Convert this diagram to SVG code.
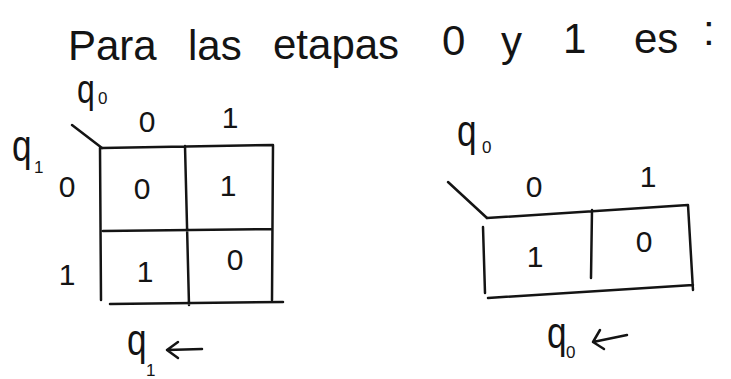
<svg xmlns="http://www.w3.org/2000/svg" width="731" height="379" viewBox="0 0 731 379">
<style>
.t{font-family:"Liberation Sans","DejaVu Sans",sans-serif;fill:#141414;}
.title{font-size:42px;}
.d{font-size:30px;text-anchor:middle;}
.q{font-size:44px;}
.s{font-size:17px;}
.ln{stroke:#141414;stroke-width:2.5;fill:none;stroke-linecap:round;stroke-linejoin:round;}
</style>
<rect width="731" height="379" fill="#ffffff"/>
<g id="title">
<text class="t title"><tspan x="68" y="60">Para</tspan><tspan x="188" y="60">las</tspan><tspan x="273" y="59">etapas</tspan><tspan x="442" y="55">0</tspan><tspan x="501" y="56">y</tspan><tspan x="563" y="53">1</tspan><tspan x="634" y="53">es</tspan><tspan x="703" y="45">:</tspan></text>
</g>
<g id="kmap-left">
<g id="kmap-left-grid">
<path class="ln" d="M102,148 L273,145 M100,148 L101,300 M273,145 L272,300 M185,146 L189,305 M103,231 L272,229 M110,304 L283,302"/>
<path class="ln" d="M72,125 L102,148"/>
</g>
<text class="t q" transform="translate(77,103) scale(0.8,1)" style="font-size:40px">q</text>
<text class="t s" x="98" y="104">0</text>
<text class="t q" transform="translate(12,161) scale(0.8,1)">q</text>
<text class="t s" x="34" y="173">1</text>
<text class="t d" x="147" y="132">0</text>
<text class="t d" x="230" y="128">1</text>
<text class="t d" x="67" y="197">0</text>
<text class="t d" x="67" y="285">1</text>
<text class="t d" x="142" y="199">0</text>
<text class="t d" x="228" y="196">1</text>
<text class="t d" x="145" y="282">1</text>
<text class="t d" x="235" y="270">0</text>
</g>
<g id="kmap-right">
<g id="kmap-right-grid">
<path class="ln" d="M487,218 L688,205 M483,227 L485,293 M592,210 L591,278 M688,205 L693,290 M488,298 L693,285"/>
<path class="ln" d="M448,182 L487,218"/>
</g>
<text class="t q" transform="translate(457,146) scale(0.8,1)">q</text>
<text class="t s" x="482" y="153">0</text>
<text class="t d" x="534" y="197">0</text>
<text class="t d" x="648" y="187">1</text>
<text class="t d" x="535" y="267">1</text>
<text class="t d" x="644" y="252">0</text>
</g>
<g id="label-q1">
<text class="t q" transform="translate(127,355) scale(0.8,1)">q</text>
<text class="t s" x="146" y="376">1</text>
</g>
<g id="label-q0">
<text class="t q" transform="translate(547,348) scale(0.8,1)">q</text>
<text class="t s" x="566" y="358">0</text>
</g>
<g id="connectors">
<path class="ln" d="M167,350 L202,349 M178,342 L167,350 L178,358"/>
<path class="ln" d="M593,342 L627,335 M600,330 L593,342 L604,349"/>
</g>
</svg>
